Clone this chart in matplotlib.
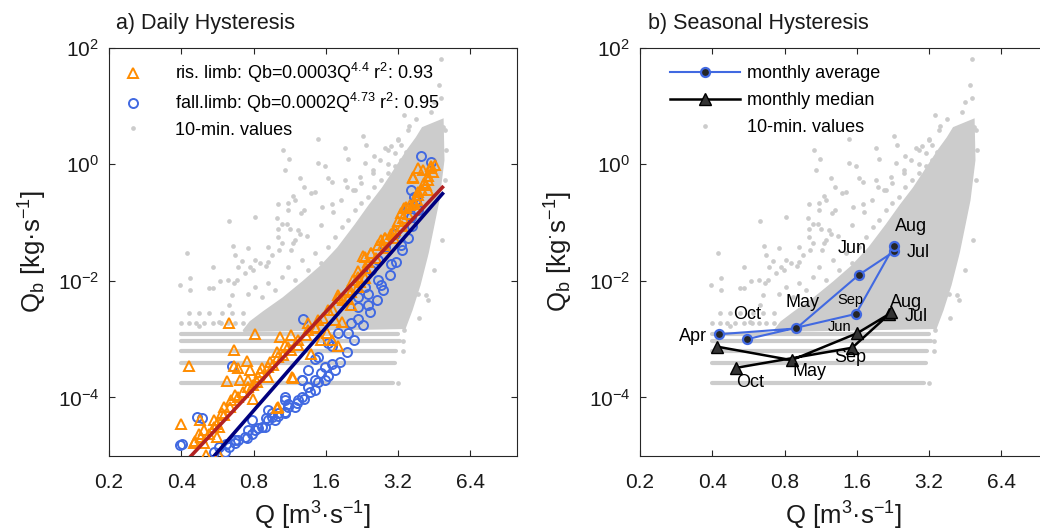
import numpy as np
import matplotlib
matplotlib.use("Agg")
import matplotlib.pyplot as plt
from matplotlib.ticker import FixedLocator, FixedFormatter, NullLocator

plt.rcParams['font.family'] = ['Liberation Sans', 'DejaVu Sans']
plt.rcParams['mathtext.fontset'] = 'custom'
plt.rcParams['mathtext.rm'] = 'Liberation Sans'
plt.rcParams['mathtext.it'] = 'Liberation Sans:italic'
plt.rcParams['mathtext.bf'] = 'Liberation Sans:bold'
plt.rcParams['mathtext.default'] = 'regular'

# ---------------- data ----------------
x_ticks = [0.2, 0.4, 0.8, 1.6, 3.2, 6.4]
x_tick_labels = ['0.2', '0.4', '0.8', '1.6', '3.2', '6.4']
y_ticks = [1e-4, 1e-2, 1e0, 1e2]
y_tick_labels = ['10$^{-4}$', '10$^{-2}$', '10$^{0}$', '10$^{2}$']

# 10-min values: dense core envelope (Q, log10 Qb)
core_q = [4.05, 4.90, 4.94, 4.71, 4.49, 4.25, 3.93, 3.64, 3.41, 0.726, 0.775, 0.879,
          1.063, 1.287, 1.53, 1.798, 2.13, 2.44, 2.763, 3.13, 3.507, 3.82]
core_log10 = [0.62, 0.76, 0.07, -0.62, -1.04, -1.52, -2.07, -2.50, -2.81, -2.86, -2.71, -2.54,
              -2.30, -2.02, -1.75, -1.44, -1.04, -0.70, -0.41, -0.07, 0.24, 0.45]

# 10-min values: quantised low-rate bands
band_log10 = [-2.914, -3.034, -3.197, -3.403, -3.755]
band_q_start = [0.397, 0.397, 0.397, 0.397, 0.397]
band_q_end = [3.19, 3.25, 3.13, 3.10, 3.04]

# 10-min values: scattered points
scatter_q = [4.82, 4.75, 4.82, 3.40, 3.80, 4.05, 2.28, 1.49, 1.06, 1.12, 1.08, 1.98, 2.32, 1.92,
             1.49, 1.63, 1.39, 1.69, 1.01, 0.81, 0.63, 0.424, 0.396, 0.436, 0.436, 0.54, 0.63,
             0.65, 0.472, 0.572, 2.55, 2.99, 3.19, 3.56, 4.39, 4.53, 3.45, 1.25, 1.17, 1.11,
             1.00, 1.05, 1.10, 1.01, 1.13, 1.26, 0.656, 0.756, 0.54, 0.671, 0.714, 0.812, 0.852,
             0.922, 0.773, 0.692, 0.582, 0.624, 0.68, 0.951, 1.05, 1.19, 1.25, 1.15, 2.36, 2.81,
             3.09, 3.29, 2.90, 2.51, 1.58, 1.69, 1.92, 1.95, 2.11, 2.24, 1.30, 1.44, 1.19, 1.115,
             1.30, 1.54, 0.922, 1.014, 1.227, 0.52, 0.737, 3.86, 4.19, 3.40, 3.92, 4.39, 4.62,
             4.90, 3.34, 3.34, 3.19,
             0.429, 0.472, 0.52, 0.59, 0.65, 0.726,
             0.397, 0.429, 0.46, 0.495, 0.54, 0.585, 0.625, 0.67, 0.726,
             0.761, 0.812, 0.865, 0.922, 0.985, 1.05, 1.115, 1.19, 1.267, 1.35, 1.44, 1.53, 1.634,
             1.74, 1.86, 1.978, 2.11, 2.24, 2.394, 2.55, 2.72, 2.898, 3.09, 3.29, 3.507, 3.74, 3.99,
             0.660, 0.798, 0.905, 1.024, 1.17, 1.337, 1.53, 1.714, 1.85, 2.075, 2.22, 2.511, 2.685,
             2.898, 3.187, 3.507,
             5.0, 4.85, 4.5, 4.25, 3.89, 5.05, 5.0]
scatter_log10 = [1.81, 1.36, 1.13, 0.84, 0.78, 0.49, 0.49, 0.43, 0.25, 0.08, -0.10, 0.08, 0.02, -0.27,
                 0.02, -0.24, -0.50, -0.68, -0.68, -0.91, -0.97, -1.52, -2.07, -1.96, -2.16, -2.13, -2.42,
                 -2.25, -2.77, -2.71, 0.14, 0.31, 0.43, 0.66, 0.89, 1.07, 0.20, -0.23, -0.54, -0.67,
                 -0.93, -1.02, -1.03, -1.12, -1.12, -0.84, -1.40, -1.43, -1.76, -1.56, -1.66, -1.64, -1.70,
                 -1.67, -1.76, -1.76, -2.00, -1.98, -1.99, -1.56, -1.36, -1.30, -1.19, -1.47, 0.33, 0.27,
                 0.19, 0.33, 0.01, -0.16, -0.04, -0.30, 0.27, -0.39, -0.44, -0.33, -0.39, -0.47, -0.62, -0.79,
                 -0.79, -0.73, -1.42, -1.25, -1.13, -2.13, -1.87, -2.22, -2.25, -2.85, -1.87, -0.96, 0.07,
                 0.64, -3.04, -3.20, -3.76,
                 -2.55, -2.55, -2.55, -2.55, -2.55, -2.55,
                 -2.73, -2.73, -2.73, -2.73, -2.73, -2.73, -2.73, -2.73, -2.73,
                 -2.22, -2.10, -2.27, -2.04, -2.16, -1.93, -1.76, -1.99, -1.64, -1.82, -1.53, -1.70, -1.42,
                 -1.25, -1.07, -0.96, -0.79, -0.67, -0.56, -0.39, -0.27, -0.16, -0.04, 0.07, 0.19, 0.30, 0.41,
                 -2.04, -1.82, -1.75, -1.47, -1.35, -1.23, -1.04, -0.82, -0.62, -0.44, -0.22, -0.10, 0.07,
                 0.24, 0.41, 0.58,
                 -0.27, -1.30, -1.82, -2.33, -2.64, 0.24, 0.58]

# daily hysteresis: rising limb (triangles)
rise_q = [0.629, 0.812, 1.03, 1.145, 0.660, 0.429, 0.754, 0.666, 0.692, 0.773, 0.865, 0.935, 0.997,
          1.081, 0.619, 0.703, 0.761, 0.824, 0.671, 0.798, 0.600, 0.997, 1.170, 0.400, 0.480, 0.562,
          0.572, 0.472, 0.520, 0.450, 0.495, 0.563, 0.922, 1.350, 1.44,
          1.70, 1.86, 1.80, 1.98, 2.18, 2.28, 2.47, 2.81, 3.45, 3.68, 3.86, 4.39, 4.11, 4.25, 3.74,
          1.014, 1.16, 1.53, 2.04, 1.80, 2.32, 2.63, 2.99, 3.19, 0.458, 0.506, 0.572,
          3.70, 4.05, 4.39, 4.25, 3.86, 3.74, 3.40, 3.29, 2.81, 2.72, 3.09, 2.32, 2.47, 2.18, 1.98,
          1.74, 1.61, 1.39, 2.18,
          0.484, 0.548, 0.59, 0.64, 0.692, 0.761, 0.838, 0.922, 1.014, 1.115, 1.227, 1.35, 1.486,
          1.634, 1.80, 2.075, 2.394, 2.763, 3.04, 3.344, 3.58, 3.86, 4.17,
          0.495, 0.545, 0.600, 0.643, 0.726, 0.798, 0.854, 0.967, 1.063, 1.14, 1.227, 1.32, 1.46,
          1.558, 1.714, 1.886, 2.03, 2.22, 2.35, 2.58, 2.84, 3.07, 3.31, 3.507, 3.82, 4.01, 4.25,
          4.49, 4.57]
rise_log10 = [-2.72, -2.92, -2.96, -2.93, -3.19, -3.46, -3.38, -3.46, -3.49, -3.53, -3.50, -3.39, -3.22,
              -3.10, -3.72, -3.70, -3.70, -3.73, -3.96, -4.02, -4.16, -4.19, -3.67, -4.46, -4.39, -4.45,
              -4.50, -4.62, -4.62, -4.79, -4.79, -4.68, -3.65, -2.73, -2.79,
              -3.01, -2.71, -2.25, -2.31, -1.84, -1.58, -1.52, -1.26, -0.74, -0.24, -0.07, -0.07, -0.33,
              -0.44, -0.68,
              -4.17, -3.65, -3.01, -2.42, -3.12, -1.96, -1.38, -1.20, -0.97, -4.75, -4.98, -4.98,
              -0.22, -0.10, -0.04, -0.27, -0.47, -0.65, -0.76, -0.84, -1.27, -1.30, -1.13, -1.59, -1.53,
              -1.93, -2.16, -2.67, -2.90, -3.25, -2.10,
              -4.68, -4.50, -4.27, -4.16, -3.99, -3.82, -3.65, -3.48, -3.30, -3.13, -3.02, -2.85, -2.67,
              -2.50, -2.30, -1.99, -1.68, -1.39, -1.16, -0.92, -0.70, -0.53, -0.36,
              -4.56, -4.39, -4.30, -4.05, -3.91, -3.79, -3.57, -3.45, -3.27, -3.19, -3.10, -2.93, -2.81,
              -2.64, -2.50, -2.33, -2.19, -2.02, -1.78, -1.61, -1.44, -1.27, -1.06, -0.86, -0.62, -0.44,
              -0.20, -0.14, -0.02]

# daily hysteresis: falling limb (circles)
fall_q = [1.287, 0.65, 0.465, 0.403, 0.922, 1.014, 1.115, 1.267, 1.35, 1.44, 1.53, 1.70, 0.812, 0.737,
          0.671, 0.629, 0.865, 0.951, 1.08, 1.21, 1.58, 0.488, 3.99, 4.39, 3.74, 3.507, 3.09, 2.81,
          2.634, 2.47, 2.32, 2.177, 3.62, 2.634, 2.394, 2.177, 2.04, 1.798, 1.634, 1.486, 1.35, 1.267,
          0.396, 0.61, 0.749, 0.951, 1.08, 1.44, 1.70, 1.978, 2.177, 2.394, 2.72, 2.99, 3.29, 3.62, 3.79,
          0.572, 0.671, 0.786, 0.893, 0.985, 1.08, 1.19, 1.30, 1.44, 1.58, 1.74, 0.786, 0.922, 1.08, 1.267,
          0.545, 0.616, 0.692, 0.761, 0.838, 0.905, 1.014, 1.115, 1.227, 1.375, 1.486, 1.634, 1.83,
          1.95, 2.09, 2.282, 2.44, 2.61, 2.763, 2.95, 3.13, 3.31, 3.507, 3.64, 3.86]
fall_log10 = [-2.66, -3.46, -4.33, -4.80, -4.39, -4.27, -4.16, -3.99, -3.82, -3.70, -3.59, -3.42, -4.56, -4.68,
              -4.79, -4.85, -4.50, -4.33, -4.25, -4.10, -3.48, -4.36, 0.14, 0.03, -0.56, -0.76, -1.19, -1.42,
              -1.64, -1.82, -2.10, -2.27, -0.44, -1.99, -2.22, -2.45, -2.73, -2.90, -3.07, -3.30, -3.53, -3.70,
              -4.81, -4.93, -4.69, -4.26, -4.05, -3.35, -3.12, -2.89, -2.66, -2.42, -2.07, -1.72, -1.38, -0.91, -0.62,
              -4.85, -4.73, -4.62, -4.50, -4.39, -4.27, -4.16, -4.02, -3.87, -3.70, -3.53, -4.39, -4.22, -3.99, -3.70,
              -4.94, -4.80, -4.73, -4.56, -4.53, -4.35, -4.32, -4.12, -4.05, -3.91, -3.74, -3.63, -3.39,
              -3.22, -3.02, -2.76, -2.54, -2.33, -2.16, -1.90, -1.68, -1.47, -1.27, -1.06, -0.79]

# power-law fits drawn in panel a (coefficient, exponent, Q range)
fit_coef = [1.7e-4, 3.7e-4]
fit_exp = [4.73, 4.4]
fit_q_range = [0.40, 4.95]

# seasonal hysteresis
months = ['Apr', 'May', 'Jun', 'Jul', 'Aug', 'Sep', 'Oct']
avg_q = [0.426, 0.894, 1.63, 2.29, 2.29, 1.585, 0.56]
avg_qb = [1.21e-3, 1.52e-3, 1.26e-2, 3.19e-2, 4.0e-2, 2.70e-3, 1.0e-3]
med_q = [0.42, 0.855, 1.605, 2.185, 2.23, 1.53, 0.50]
med_qb = [7.4e-4, 4.35e-4, 1.26e-3, 2.7e-3, 2.9e-3, 7.1e-4, 3.2e-4]

legend_a = ['ris. limb: Qb=0.0003Q$^{4.4}$ r$^{2}$: 0.93',
            'fall.limb: Qb=0.0002Q$^{4.73}$ r$^{2}$: 0.95',
            '10-min. values']
legend_b = ['monthly average', 'monthly median', '10-min. values']

# ---------------- styling / layout ----------------
GRAY = '#cccccc'
ORANGE = '#ff8c00'
BLUE = '#4169e1'
RED = '#b22222'
NAVY = '#00007f'
AXC = '#262626'

# label offsets in pixels (dx, dy, fontsize)
avg_label_off = {'Apr': (-26, -2, 13), 'May': (6, 26, 13), 'Jun': (-7, 26, 13), 'Jul': (24, -1, 13),
                 'Aug': (17, 19, 13), 'Sep': (-6, 14, 10.5), 'Oct': (0, 25, 13)}
med_label_off = {'May': (18, -11, 13), 'Jun': (-18, 6, 10.5), 'Jul': (27, -3, 13),
                 'Aug': (15, 10, 13), 'Sep': (-2, -10, 13), 'Oct': (15, -15, 13)}

fig = plt.figure(figsize=(10.4, 5.32), dpi=100)
W, H = 1040.0, 532.0
axA = fig.add_axes([109 / W, 76.3 / H, 408 / W, 408.2 / H])
axB = fig.add_axes([640 / W, 76.3 / H, 408 / W, 408.2 / H])

core_qb = 10.0 ** np.array(core_log10)
scatter_qb = 10.0 ** np.array(scatter_log10)


def draw_cloud(ax):
    ax.fill(core_q, core_qb, facecolor=GRAY, edgecolor=GRAY, lw=1.5, zorder=1)
    for lvl, q0, q1 in zip(band_log10, band_q_start, band_q_end):
        ax.plot([q0, q1], [10.0 ** lvl, 10.0 ** lvl], color=GRAY, lw=3.0,
                solid_capstyle='round', zorder=1)
    h, = ax.plot(scatter_q, scatter_qb, ls='none', marker='o', ms=3.4, mew=0,
                 color=GRAY, zorder=1)
    return h


def style_axes(ax):
    ax.set_xscale('log', base=2)
    ax.set_yscale('log')
    ax.set_xlim(0.2, 10)
    ax.set_ylim(1e-5, 1e2)
    ax.xaxis.set_major_locator(FixedLocator(x_ticks))
    ax.xaxis.set_major_formatter(FixedFormatter(x_tick_labels))
    ax.xaxis.set_minor_locator(NullLocator())
    ax.yaxis.set_major_locator(FixedLocator(y_ticks))
    ax.yaxis.set_major_formatter(FixedFormatter(y_tick_labels))
    ax.yaxis.set_minor_locator(NullLocator())
    ax.tick_params(which='both', direction='in', top=True, right=True, length=4,
                   width=0.8, labelsize=15, color=AXC, labelcolor='#1a1a1a')
    ax.tick_params(axis='x', pad=12.5)
    ax.tick_params(axis='y', pad=7)
    for s in ax.spines.values():
        s.set_color(AXC)
        s.set_linewidth(0.8)
    ax.set_xlabel('Q [m$^{3}$·s$^{-1}$]', fontsize=18.5, color='#1a1a1a')
    ax.xaxis.set_label_coords(0.5, -0.107)


# ---- panel a ----
gA = draw_cloud(axA)
hc, = axA.plot(fall_q, 10.0 ** np.array(fall_log10), ls='none', marker='o', ms=6.5,
               mfc='none', mec=BLUE, mew=1.4, zorder=3)
ht, = axA.plot(rise_q, 10.0 ** np.array(rise_log10), ls='none', marker='^', ms=7.5,
               mfc='none', mec=ORANGE, mew=1.4, zorder=4)
qfit = np.array(fit_q_range)
for c, e, col in zip(fit_coef, fit_exp, [NAVY, RED]):
    axA.plot(qfit, c * qfit ** e, color=col, lw=2.6, zorder=5, solid_capstyle='butt')
style_axes(axA)
axA.set_ylabel('Q$_{b}$ [kg·s$^{-1}$]', fontsize=18.5, color='#1a1a1a')
axA.yaxis.set_label_coords(-0.147, 0.5)
axA.text(0.017, 1.06, 'a) Daily Hysteresis', transform=axA.transAxes, fontsize=15.5,
         ha='left', va='center', color='#1a1a1a')
axA.legend([ht, hc, gA], legend_a, loc='upper left', bbox_to_anchor=(-0.027, 0.967),
           frameon=False, fontsize=13, handlelength=3.88, handletextpad=0.4,
           borderpad=0, borderaxespad=0, labelspacing=0.35, numpoints=1)

# ---- panel b ----
gB = draw_cloud(axB)
ha, = axB.plot(avg_q, avg_qb, color=BLUE, lw=1.5, marker='o', ms=6.5, mfc='#262626',
               mec=BLUE, mew=1.6, zorder=4)
hm, = axB.plot(med_q, med_qb, color='black', lw=1.8, marker='^', ms=9, mfc='#333333',
               mec='black', mew=1.0, zorder=4)
for m, q, v in zip(months, avg_q, avg_qb):
    if m in avg_label_off:
        dx, dy, fs = avg_label_off[m]
        axB.annotate(m, (q, v), xytext=(dx, dy), textcoords='offset pixels', ha='center',
                     va='center', fontsize=fs, color='black', zorder=6)
for m, q, v in zip(months, med_q, med_qb):
    if m in med_label_off:
        dx, dy, fs = med_label_off[m]
        axB.annotate(m, (q, v), xytext=(dx, dy), textcoords='offset pixels', ha='center',
                     va='center', fontsize=fs, color='black', zorder=6)
style_axes(axB)
axB.set_ylabel('Q$_{b}$ [kg$^{·}$s$^{-1}$]', fontsize=18.5, color='#1a1a1a')
axB.yaxis.set_label_coords(-0.159, 0.5)
axB.text(0.019, 1.06, 'b) Seasonal Hysteresis', transform=axB.transAxes, fontsize=15.5,
         ha='left', va='center', color='#1a1a1a')
axB.legend([ha, hm, gB], legend_b, loc='upper left', bbox_to_anchor=(0.073, 0.957),
           frameon=False, fontsize=13, handlelength=3.88, handletextpad=0.4,
           borderpad=0, borderaxespad=0, labelspacing=0.55, numpoints=1)

fig.savefig('out.png', dpi=100, facecolor='white')
